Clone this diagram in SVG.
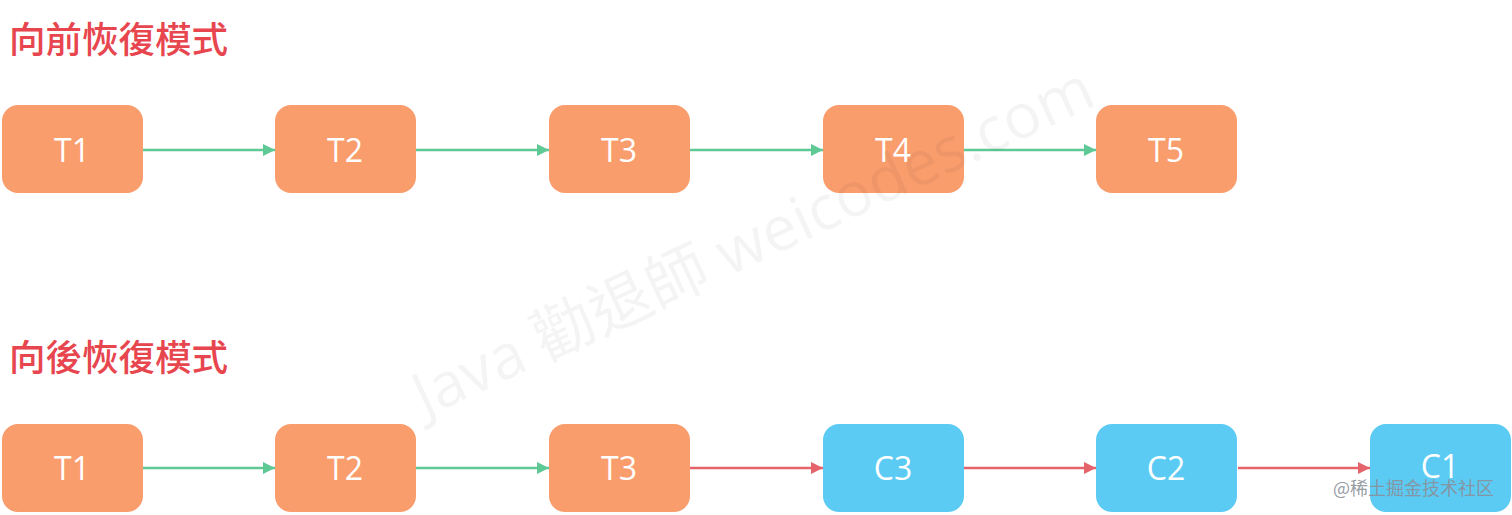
<svg xmlns="http://www.w3.org/2000/svg" width="1512" height="515" viewBox="0 0 1512 515">
<defs>
<style>
.title{font-family:"Noto Sans CJK TC","Noto Sans CJK SC",sans-serif;font-size:36.5px;fill:#e8464f;font-weight:500}
.box-t{fill:#f99d6d}
.box-c{fill:#5ccbf4}
.lbl{font-family:"Open Sans","Noto Sans",sans-serif;font-size:32px;fill:#ffffff;text-anchor:middle}
.g{stroke:#5fc996;stroke-width:2.5;fill:none}
.r{stroke:#e5646c;stroke-width:2.5;fill:none}
.wm{font-family:"Open Sans","Noto Sans CJK TC",sans-serif;font-size:62px;fill:#000;fill-opacity:0.045}
.jj{font-family:"Noto Sans CJK SC",sans-serif;font-size:18px;fill:#8a8f98;fill-opacity:0.9}
</style>
<marker id="ag" viewBox="0 0 12 12" refX="12" refY="6" markerWidth="12" markerHeight="12" markerUnits="userSpaceOnUse" orient="auto"><path d="M0,0 L12,6 L0,12 Z" fill="#5fc996"/></marker>
<marker id="ar" viewBox="0 0 12 12" refX="12" refY="6" markerWidth="12" markerHeight="12" markerUnits="userSpaceOnUse" orient="auto"><path d="M0,0 L12,6 L0,12 Z" fill="#e5646c"/></marker>
</defs>
<rect width="1512" height="515" fill="#ffffff"/>
<text class="title" x="9" y="53">向前恢復模式</text>
<text class="title" x="9" y="371">向後恢復模式</text>
<g id="connectors">
<line class="g" x1="143" y1="150" x2="275" y2="150" marker-end="url(#ag)"/>
<line class="g" x1="416" y1="150" x2="549" y2="150" marker-end="url(#ag)"/>
<line class="g" x1="690" y1="150" x2="823" y2="150" marker-end="url(#ag)"/>
<line class="g" x1="964" y1="150" x2="1096" y2="150" marker-end="url(#ag)"/>
<line class="g" x1="143" y1="468" x2="275" y2="468" marker-end="url(#ag)"/>
<line class="g" x1="416" y1="468" x2="549" y2="468" marker-end="url(#ag)"/>
<line class="r" x1="690" y1="468" x2="823" y2="468" marker-end="url(#ar)"/>
<line class="r" x1="964" y1="468" x2="1096" y2="468" marker-end="url(#ar)"/>
<line class="r" x1="1238" y1="468" x2="1370" y2="468" marker-end="url(#ar)"/>
</g>
<g id="f-T1"><rect class="box-t" x="2" y="105" width="141" height="88" rx="16"/><text class="lbl" x="72" y="162">T1</text></g>
<g id="f-T2"><rect class="box-t" x="275" y="105" width="141" height="88" rx="16"/><text class="lbl" x="345" y="162">T2</text></g>
<g id="f-T3"><rect class="box-t" x="549" y="105" width="141" height="88" rx="16"/><text class="lbl" x="619" y="162">T3</text></g>
<g id="f-T4"><rect class="box-t" x="823" y="105" width="141" height="88" rx="16"/><text class="lbl" x="893" y="162">T4</text></g>
<g id="f-T5"><rect class="box-t" x="1096" y="105" width="141" height="88" rx="16"/><text class="lbl" x="1166" y="162">T5</text></g>
<g id="b-T1"><rect class="box-t" x="2" y="424" width="141" height="88" rx="16"/><text class="lbl" x="72" y="480">T1</text></g>
<g id="b-T2"><rect class="box-t" x="275" y="424" width="141" height="88" rx="16"/><text class="lbl" x="345" y="480">T2</text></g>
<g id="b-T3"><rect class="box-t" x="549" y="424" width="141" height="88" rx="16"/><text class="lbl" x="619" y="480">T3</text></g>
<g id="b-C3"><rect class="box-c" x="823" y="424" width="141" height="88" rx="16"/><text class="lbl" x="893" y="480">C3</text></g>
<g id="b-C2"><rect class="box-c" x="1096" y="424" width="141" height="88" rx="16"/><text class="lbl" x="1166" y="480">C2</text></g>
<g id="b-C1"><rect class="box-c" x="1370" y="424" width="141" height="88" rx="16"/><text class="lbl" x="1440" y="478">C1</text></g>
<text class="wm" x="425" y="418" transform="rotate(-25 425 418)">Java 勸退師 weicodes.com</text>
<text class="jj" x="1333" y="495">@稀土掘金技术社区</text>
</svg>
